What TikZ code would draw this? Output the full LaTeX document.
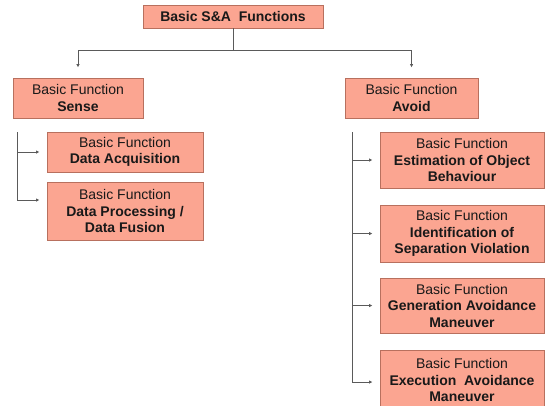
\documentclass[tikz,border=0pt]{standalone}
\usepackage{fontspec}
\setmainfont{Liberation Sans}
\usetikzlibrary{arrows.meta}
\definecolor{boxfill}{HTML}{FBA591}
\definecolor{boxedge}{HTML}{B8705E}
\definecolor{wire}{HTML}{5A5A5A}
\begin{document}
\begin{tikzpicture}[x=1pt,y=-1pt,
  fn/.style={draw=boxedge,line width=0.9pt,fill=boxfill,inner sep=0pt,
    align=center,text=black!90,font=\fontsize{14}{16.5}\selectfont},
  wireline/.style={draw=wire,line width=0.8pt},
  feed/.style={wireline,-{Latex[length=3.5pt,width=3.5pt]},shorten >=7pt}]
\useasboundingbox (0,0) rectangle (548,405);

% root
\node[fn,minimum width=180pt,minimum height=23pt] (root) at (233,16.5)
  {\textbf{Basic S\&A\ \ Functions}};

% level 1
\node[fn,minimum width=130pt,minimum height=40pt] (sense) at (78,98)
  {Basic Function\\\textbf{Sense}};
\node[fn,minimum width=133pt,minimum height=40pt] (avoid) at (411.5,98)
  {Basic Function\\\textbf{Avoid}};

% sense branch
\node[fn,minimum width=156pt,minimum height=40pt] (acq) at (125,152)
  {Basic Function\\\textbf{Data Acquisition}};
\node[fn,minimum width=156pt,minimum height=58pt] (proc) at (125,211)
  {Basic Function\\\textbf{Data Processing /}\\\textbf{Data Fusion}};

% avoid branch
\node[fn,minimum width=164pt,minimum height=56pt] (est) at (462,160)
  {Basic Function\\\textbf{Estimation of Object}\\\textbf{Behaviour}};
\node[fn,minimum width=164pt,minimum height=57pt] (ident) at (462,233.5)
  {Basic Function\\\textbf{Identification of}\\\textbf{Separation Violation}};
\node[fn,minimum width=164pt,minimum height=55pt] (gen) at (462,305.5)
  {Basic Function\\\textbf{Generation Avoidance}\\\textbf{Maneuver}};
\node[fn,minimum width=164pt,minimum height=60pt] (exec) at (462,380)
  {Basic Function\\\textbf{Execution\ \ Avoidance}\\\textbf{Maneuver}};

% root to level 1
\coordinate (bus) at (0,50);
\draw[wireline] (root.south) -- (root.south |- bus);
\draw[feed,shorten >=10pt] (root.south |- bus) -| (sense.north);
\draw[feed,shorten >=10pt] (root.south |- bus) -| (avoid.north);

% sense spine
\coordinate (lspine) at (17,132);
\draw[wireline] (lspine) -- (lspine |- 0,152);
\draw[feed] (lspine |- acq.west) -- (acq.west);
\draw[feed] (lspine) |- ([yshift=11pt]proc.west);

% avoid spine
\coordinate (rspine) at (352,132);
\draw[feed] (rspine |- est.west) -- (est.west);
\draw[feed] (rspine |- ident.west) -- (ident.west);
\draw[feed] (rspine |- gen.west) -- (gen.west);
\draw[feed] (rspine) |- ([yshift=-2pt]exec.west);
\end{tikzpicture}
\end{document}
